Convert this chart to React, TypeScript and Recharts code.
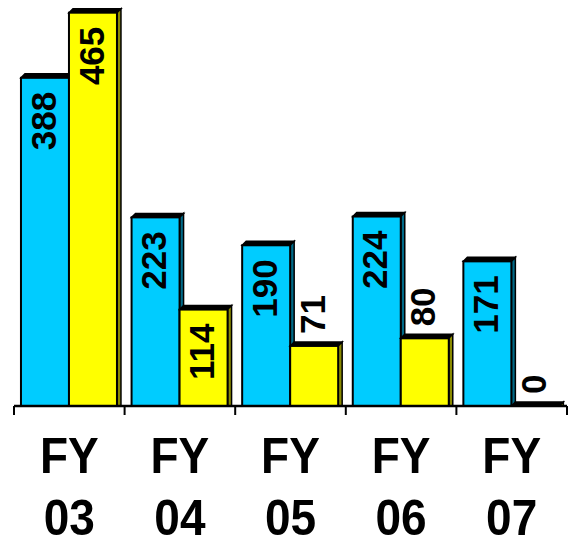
import { Bar, BarChart, LabelList, XAxis, YAxis } from 'recharts'

const YEARS = ['03', '04', '05', '06', '07']
const CYAN_VALUES = [388, 223, 190, 224, 171]
const YELLOW_VALUES = [465, 114, 71, 80, 0]

const COLORS = {
  cyan: { face: '#00ccff', side: '#006a88' },
  yellow: { face: '#ffff00', side: '#8a8a00' },
}

const FONT = '"Liberation Sans", Arial, sans-serif'
const DEPTH = 4

const data = YEARS.map((year, i) => ({
  year,
  cyan: CYAN_VALUES[i],
  yellow: YELLOW_VALUES[i],
}))

function makeBox(side: string) {
  return (props: any) => {
    const { x, y, width: w, height: h, fill } = props
    const d = DEPTH
    return (
      <g>
        <polygon
          points={`${x},${y} ${x + d},${y - d} ${x + w + d},${y - d} ${x + w},${y}`}
          fill="#000"
          stroke="#000"
          strokeWidth={1.5}
        />
        <polygon
          points={`${x + w},${y} ${x + w + d},${y - d} ${x + w + d},${y + h} ${x + w},${y + h}`}
          fill={side}
          stroke="#000"
          strokeWidth={1.5}
        />
        {h > 0 && <rect x={x} y={y} width={w} height={h} fill={fill} stroke="#000" strokeWidth={2} />}
      </g>
    )
  }
}

function ValueLabel(props: any) {
  const { x, y, width, height, value } = props
  const cx = x + width / 2 - 2
  const size = 35
  const inside = height > 85
  const ty = inside ? y + 14 : y - 12
  const bx = cx + size * 0.36
  return (
    <text
      x={bx}
      y={ty}
      transform={`rotate(-90 ${bx} ${ty})`}
      textAnchor={inside ? 'end' : 'start'}
      fontFamily={FONT}
      fontWeight="bold"
      fontSize={size}
      fill="#000"
    >
      {value}
    </text>
  )
}

// stretched a little vertically, like the original's label font
function TallText({ x, y, children }: { x: number; y: number; children: any }) {
  return (
    <text
      transform={`translate(${x} ${y}) scale(1 1.1)`}
      textAnchor="middle"
      fontFamily={FONT}
      fontWeight="bold"
      fontSize={46}
      fill="#000"
    >
      {children}
    </text>
  )
}

function YearTick(props: any) {
  const { x, y, payload, index, visibleTicksCount } = props
  const half = payload.offset ?? 55.3
  const last = index === (visibleTicksCount ?? YEARS.length) - 1
  return (
    <g>
      <line x1={x - half} x2={x - half} y1={y} y2={y + 9} stroke="#000" strokeWidth={2} />
      {last && <line x1={x + half} x2={x + half} y1={y} y2={y + 9} stroke="#000" strokeWidth={2} />}
      <TallText x={x} y={y + 67}>FY</TallText>
      <TallText x={x} y={y + 129}>{payload.value}</TallText>
    </g>
  )
}

export default function App() {
  return (
    <div style={{ position: 'absolute', left: 0, top: 0, background: '#fff' }}>
      <BarChart
        width={576}
        height={538}
        data={data}
        margin={{ top: 0, right: 9, bottom: 0, left: 14 }}
        barCategoryGap="6.3%"
        barGap={0}
      >
        <XAxis
          dataKey="year"
          height={132}
          axisLine={{ stroke: '#000', strokeWidth: 2.5 }}
          tickLine={false}
          tickSize={0}
          tickMargin={0}
          interval={0}
          tick={<YearTick />}
        />
        <YAxis hide domain={[0, 480]} />
        <Bar dataKey="cyan" fill={COLORS.cyan.face} shape={makeBox(COLORS.cyan.side)} isAnimationActive={false}>
          <LabelList dataKey="cyan" content={<ValueLabel />} />
        </Bar>
        <Bar dataKey="yellow" fill={COLORS.yellow.face} shape={makeBox(COLORS.yellow.side)} isAnimationActive={false}>
          <LabelList dataKey="yellow" content={<ValueLabel />} />
        </Bar>
      </BarChart>
    </div>
  )
}
